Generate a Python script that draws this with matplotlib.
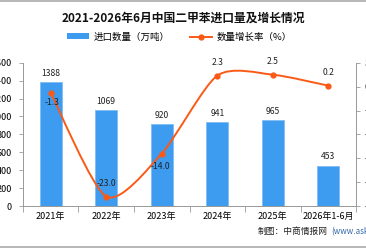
import matplotlib
matplotlib.use("Agg")
import matplotlib.pyplot as plt
from matplotlib.path import Path
from matplotlib.patches import PathPatch, Patch
from matplotlib.lines import Line2D
import numpy as np

plt.rcParams['font.family'] = ['Noto Sans CJK SC', 'DejaVu Sans']

# 数据
years = ['2021年', '2022年', '2023年', '2024年', '2025年', '2026年1-6月']
volume = [1388, 1069, 920, 941, 965, 453]        # 进口数量（万吨）
growth = [-1.3, -23.0, -14.0, 2.3, 2.5, 0.2]     # 数量增长率（%）

bar_color = '#3d9bf0'
line_color = '#fa5a16'
grey = '#999999'

fig = plt.figure(figsize=(3.66, 2.48), dpi=100)
ax = fig.add_axes([0.0628, 0.169, 0.91, 0.578])
ax2 = ax.twinx()

x = np.arange(len(years))
ax.bar(x, volume, width=0.4, color=bar_color, edgecolor='#7fbdf5', linewidth=0.6, zorder=2)
for xi, v in zip(x, volume):
    ax.text(xi, v + 45, str(v), ha='center', va='bottom', fontsize=6.2, color='#222222')

ax.set_xlim(-0.5, len(years) - 0.5)
ax.set_ylim(0, 1600)
ax.set_yticks(np.arange(0, 1601, 200))
ax.set_xticks(x)
ax.set_xticklabels(years, fontsize=6.5)
ax.set_xticks(np.arange(-0.5, len(years), 1), minor=True)
ax.tick_params(axis='x', which='major', length=0, pad=4)
ax.tick_params(axis='x', which='minor', length=4, color=grey, width=0.6)
ax.tick_params(axis='y', labelsize=6.5, length=3, color=grey, width=0.6, pad=5)

ax2.set_ylim(-25, 5)
ax2.set_yticks(np.arange(-25, 6, 5))
ax2.tick_params(axis='y', labelsize=6.5, length=3, color=grey, width=0.6, pad=3)

for a in (ax, ax2):
    a.spines['top'].set_visible(False)
    for s in ('left', 'right', 'bottom'):
        a.spines[s].set_color(grey)
        a.spines[s].set_linewidth(0.6)

# 平滑曲线（Catmull-Rom 转贝塞尔）
pts = np.column_stack([x, growth]).astype(float)
verts = [pts[0]]
codes = [Path.MOVETO]
n = len(pts)
k = 8.0
for i in range(n - 1):
    p0 = pts[i - 1] if i > 0 else pts[i]
    p1, p2 = pts[i], pts[i + 1]
    p3 = pts[i + 2] if i + 2 < n else pts[i + 1]
    c1 = p1 + (p2 - p0) / k
    c2 = p2 - (p3 - p1) / k
    verts += [c1, c2, p2]
    codes += [Path.CURVE4] * 3
ax2.add_patch(PathPatch(Path(verts, codes), facecolor='none', edgecolor=line_color,
                        linewidth=1.4, zorder=3))
ax2.plot(x, growth, 'o', color=line_color, markersize=3.5, zorder=4)

offsets = [(1, -4), (0, 6), (-1, -6), (0, 6), (0, 6), (0, 6)]
for xi, g, (dx, dy) in zip(x, growth, offsets):
    ax2.annotate(f'{g:.1f}', (xi, g), xytext=(dx, dy), textcoords='offset points',
                 ha='center', va='bottom' if dy > 0 else 'top', fontsize=6.2, color='#222222')

fig.text(0.5, 0.925, '2021-2026年6月中国二甲苯进口量及增长情况', ha='center', va='center',
         fontsize=8.5, fontweight='bold', color='#111111')

handles = [Patch(facecolor=bar_color, edgecolor='none'),
           Line2D([0], [0], color=line_color, linewidth=1.4, marker='o', markersize=3.5)]
fig.legend(handles, ['进口数量（万吨）', '数量增长率（%）'], loc='center',
           bbox_to_anchor=(0.49, 0.85), ncol=2, frameon=False, fontsize=6.8,
           handlelength=2.3, handleheight=0.6, columnspacing=2.2, handletextpad=0.5)

fig.text(0.705, 0.065, '制图：中商情报网', fontsize=6.3, color='#222222', va='center')
fig.text(0.905, 0.065, '(www.askci.com)', fontsize=5.8, color='#3366aa', va='center')

fig.add_artist(Line2D([0, 1], [0.997, 0.997], color='#aaaaaa', linewidth=1.2))
fig.add_artist(Line2D([0, 1], [0.006, 0.006], color='#aaaaaa', linewidth=1.2))

fig.savefig('out.png', dpi=100)
